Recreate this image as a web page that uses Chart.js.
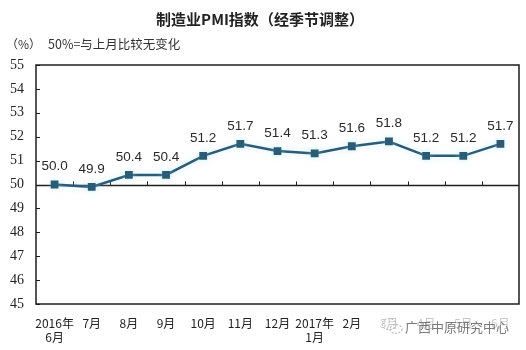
<!DOCTYPE html>
<html>
<head>
<meta charset="utf-8">
<script src="https://cdn.jsdelivr.net/npm/chart.js@4"></script>
<style>
  html, body { margin: 0; padding: 0; background: #fff; }
  #wrap { width: 526px; height: 350px; }
</style>
</head>
<body>
<div id="wrap"><canvas id="c" width="526" height="350"></canvas></div>
<script>
// Manufacturing PMI, seasonally adjusted, Jun 2016 - Jun 2017
const months = [
  ['2016年', '6月'], '7月', '8月', '9月', '10月', '11月', '12月',
  ['2017年', '1月'], '2月', '3月', '4月', '5月', '6月'
];
const pmi = [50.0, 49.9, 50.4, 50.4, 51.2, 51.7, 51.4, 51.3, 51.6, 51.8, 51.2, 51.2, 51.7];
const yTicks = [45, 46, 47, 48, 49, 50, 51, 52, 53, 54, 55];
const baseline = 50;

const titleText = '制造业PMI指数（经季节调整）';
const unitText = '（%）';
const noteText = '50%=与上月比较无变化';
const markText = '广西中原研究中心';

const cjk = '"Noto Sans CJK SC", "Noto Sans", sans-serif';
const lineColor = '#2c5b75';

// Frame, baseline at 50 with inward tick marks, value labels and headings
const decor = {
  id: 'decor',
  beforeDatasetsDraw(chart) {
    const { ctx, chartArea: a, scales: { x, y } } = chart;
    ctx.save();
    ctx.strokeStyle = '#1e1e1e';
    ctx.lineWidth = 1.5;
    ctx.strokeRect(a.left, a.top, a.right - a.left, a.bottom - a.top);

    const by = Math.round(y.getPixelForValue(baseline)) + 0.5;
    ctx.beginPath();
    ctx.moveTo(a.left, by);
    ctx.lineTo(a.right, by);
    ctx.stroke();

    ctx.lineWidth = 1;
    ctx.beginPath();
    yTicks.forEach(v => {
      const py = Math.round(y.getPixelForValue(v)) + 0.5;
      ctx.moveTo(a.left, py);
      ctx.lineTo(a.left + 4, py);
    });
    for (let i = 1; i < months.length; i++) {
      const px = Math.round((x.getPixelForTick(i - 1) + x.getPixelForTick(i)) / 2) + 0.5;
      ctx.moveTo(px, by);
      ctx.lineTo(px, by - 4);
    }
    ctx.stroke();
    ctx.restore();
  },
  beforeDatasetDraw(chart) {
    const ctx = chart.ctx;
    ctx.save();
    ctx.shadowColor = 'rgba(160, 225, 245, 0.55)';
    ctx.shadowBlur = 6;
  },
  afterDatasetDraw(chart) {
    chart.ctx.restore();
  },
  afterDatasetsDraw(chart) {
    const { ctx } = chart;
    const meta = chart.getDatasetMeta(0);
    ctx.save();
    ctx.fillStyle = '#2a2a2a';
    ctx.font = '13.5px "Liberation Sans", Arial, sans-serif';
    ctx.textAlign = 'center';
    ctx.textBaseline = 'middle';
    meta.data.forEach((pt, i) => {
      ctx.fillText(pmi[i].toFixed(1), pt.x, pt.y - 18);
    });

    ctx.fillStyle = '#222';
    ctx.font = 'bold 15px ' + cjk;
    ctx.fillText(titleText, 260, 19);

    ctx.textAlign = 'left';
    ctx.font = '12px ' + cjk;
    ctx.fillStyle = '#333';
    ctx.fillText(unitText, 6, 44);
    ctx.font = '12.5px ' + cjk;
    ctx.fillText(noteText, 48, 44);

    // account watermark
    ctx.fillStyle = 'rgba(255,255,255,0.75)';
    ctx.fillRect(380, 316, 136, 20);
    ctx.strokeStyle = '#bdbdbd';
    ctx.lineWidth = 1.2;
    ctx.setLineDash([2, 1.5]);
    ctx.beginPath();
    ctx.ellipse(389, 324, 7, 5.5, 0, 0, Math.PI * 2);
    ctx.stroke();
    ctx.beginPath();
    ctx.ellipse(396, 329, 6, 4.5, 0, 0, Math.PI * 2);
    ctx.stroke();
    ctx.setLineDash([]);
    ctx.fillStyle = '#7a7a7a';
    ctx.font = '13px ' + cjk;
    ctx.fillText(markText, 405, 327);
    ctx.restore();
  }
};

new Chart(document.getElementById('c'), {
  type: 'line',
  data: {
    labels: months,
    datasets: [{
      data: pmi,
      borderColor: lineColor,
      backgroundColor: lineColor,
      borderWidth: 2.5,
      pointStyle: 'rect',
      pointRadius: 5.5,
      pointBorderWidth: 0,
      tension: 0,
      fill: false
    }]
  },
  options: {
    responsive: false,
    animation: false,
    events: [],
    layout: { padding: { top: 65, right: 7, left: 0, bottom: 0 } },
    plugins: { legend: { display: false }, title: { display: false }, tooltip: { enabled: false } },
    scales: {
      x: {
        type: 'category',
        offset: true,
        grid: { display: false, drawTicks: false },
        border: { display: false },
        ticks: {
          color: '#222',
          font: { family: cjk, size: 12, lineHeight: 1.2 },
          padding: 12,
          maxRotation: 0,
          autoSkip: false
        },
        afterFit(s) { s.height = 46; }
      },
      y: {
        min: 45,
        max: 55,
        afterBuildTicks(s) { s.ticks = yTicks.map(v => ({ value: v })); },
        grid: { display: false, drawTicks: false },
        border: { display: false },
        ticks: {
          color: '#222',
          font: { family: '"Liberation Serif", "Times New Roman", serif', size: 14 },
          padding: 12
        },
        afterFit(s) { s.width = 36; }
      }
    }
  },
  plugins: [decor]
});
</script>
</body>
</html>
